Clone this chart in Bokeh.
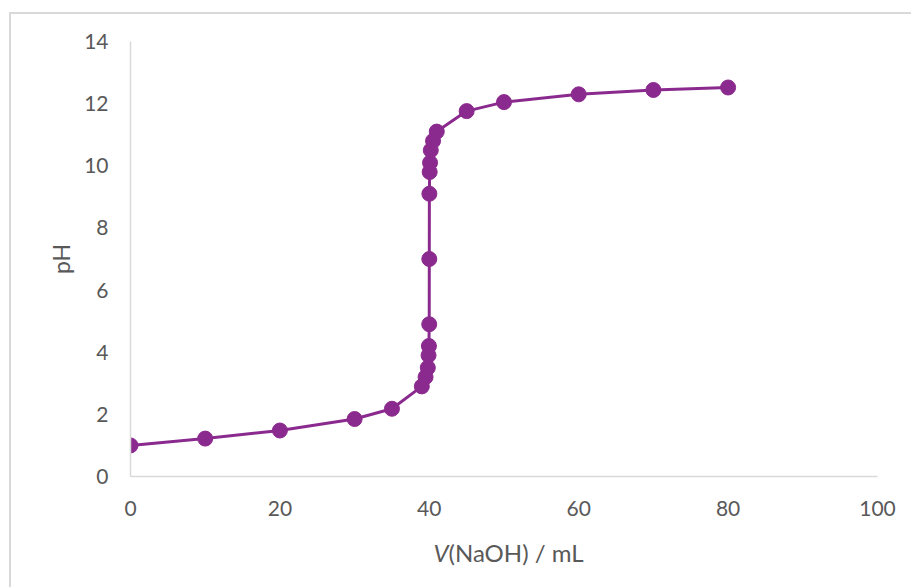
from bokeh.plotting import figure
from bokeh.layouts import column
from bokeh.models import ColumnDataSource, FixedTicker, Range1d, Div
from bokeh.embed import file_html
from bokeh.resources import INLINE

# Data
volume_ml = [0, 10, 20, 30, 35, 39, 39.5, 39.8, 39.9, 39.95, 39.99, 40, 40.01,
             40.05, 40.1, 40.2, 40.5, 41, 45, 50, 60, 70, 80]
ph_values = [1.0, 1.22, 1.48, 1.85, 2.18, 2.9, 3.2, 3.5, 3.9, 4.2, 4.9, 7.0, 9.1,
             9.8, 10.1, 10.5, 10.8, 11.1, 11.76, 12.05, 12.3, 12.44, 12.52]
x_ticks = [0, 20, 40, 60, 80, 100]
y_ticks = [0, 2, 4, 6, 8, 10, 12, 14]
x_title_italic = "V"
x_title_rest = "(NaOH) / mL"
y_title = "pH"

PURPLE = "#8B2A8E"
TEXT = "#595959"
AXIS = "#d9d9d9"
FONT = "Lato"

src = ColumnDataSource(data=dict(v=volume_ml, ph=ph_values))

p = figure(width=899, height=512, output_backend="svg", toolbar_location=None,
           x_range=Range1d(0, 100), y_range=Range1d(0, 14),
           min_border_left=119, min_border_right=33,
           min_border_top=27, min_border_bottom=50)

p.line("v", "ph", source=src, line_color=PURPLE, line_width=3)
p.scatter("v", "ph", source=src, size=15, fill_color=PURPLE, line_color=PURPLE)

p.xgrid.visible = False
p.ygrid.visible = False
p.outline_line_color = None

for ax in (p.xaxis[0], p.yaxis[0]):
    ax.axis_line_color = AXIS
    ax.axis_line_width = 1.5
    ax.major_tick_line_color = None
    ax.minor_tick_line_color = None
    ax.major_tick_out = 0
    ax.major_tick_in = 0
    ax.major_label_text_font = FONT
    ax.major_label_text_font_size = "21px"
    ax.major_label_text_color = TEXT

p.xaxis[0].ticker = FixedTicker(ticks=x_ticks)
p.yaxis[0].ticker = FixedTicker(ticks=y_ticks)
p.xaxis[0].major_label_standoff = 24
p.yaxis[0].major_label_standoff = 22

p.yaxis[0].axis_label = y_title
p.yaxis[0].axis_label_text_font = FONT
p.yaxis[0].axis_label_text_font_size = "23px"
p.yaxis[0].axis_label_text_font_style = "normal"
p.yaxis[0].axis_label_text_color = TEXT
p.yaxis[0].axis_label_standoff = 6

title_html = (
    '<div style="width:747px;margin-left:119px;padding-top:7px;text-align:center;'
    f'font-family:{FONT};font-size:24px;line-height:29px;color:{TEXT};white-space:nowrap">'
    f'<i>{x_title_italic}</i>{x_title_rest}</div>'
)
xtitle = Div(text=title_html, width=899, height=61)

layout = column(p, xtitle, spacing=0,
                styles={"margin-left": "9px", "margin-top": "12px",
                        "border-left": f"2px solid {AXIS}",
                        "border-top": f"2px solid {AXIS}"})

open("out.html", "w").write(file_html(layout, INLINE))
